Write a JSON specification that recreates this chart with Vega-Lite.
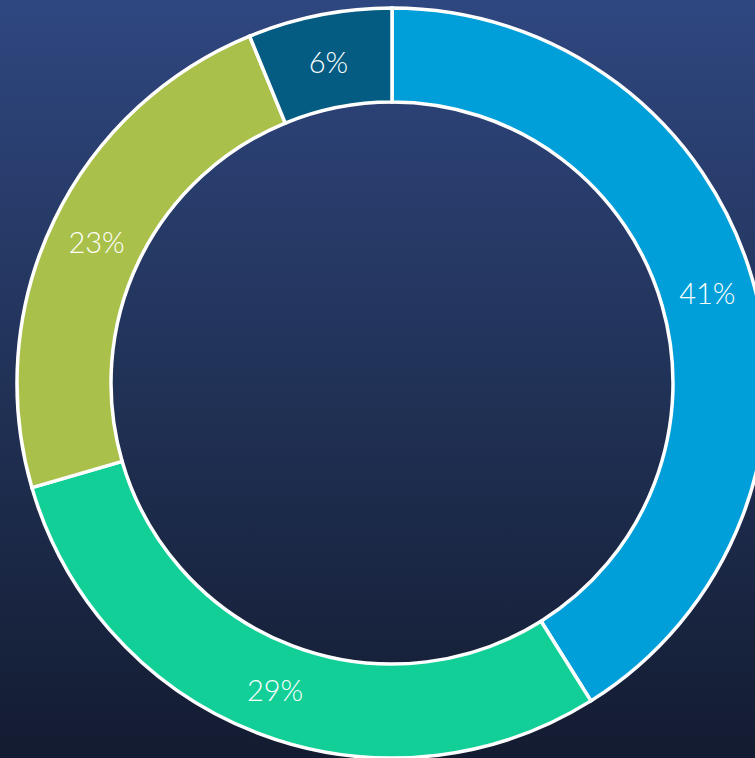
{
  "$schema": "https://vega.github.io/schema/vega-lite/v6.json",
  "width": 784,
  "height": 766,
  "autosize": {"type": "none"},
  "padding": 0,
  "background": "#1c2844",
  "config": {"view": {"stroke": null}},
  "data": {"values": [
    {"idx": 1, "segment": "A", "value": 41.1, "label": "41%"},
    {"idx": 2, "segment": "B", "value": 29.4, "label": "29%"},
    {"idx": 3, "segment": "C", "value": 23.3, "label": "23%"},
    {"idx": 4, "segment": "D", "value": 6.2, "label": "6%"}
  ]},
  "layer": [
    {
      "mark": {
        "type": "rect",
        "color": {
          "gradient": "linear", "x1": 0, "y1": 0, "x2": 0, "y2": 1,
          "stops": [
            {"offset": 0, "color": "#2f4780"},
            {"offset": 0.5, "color": "#213257"},
            {"offset": 1, "color": "#131b30"}
          ]
        }
      },
      "encoding": {}
    },
    {
      "mark": {"type": "arc", "outerRadius": 375, "innerRadius": 281, "stroke": "white", "strokeWidth": 3.5},
      "encoding": {
        "theta": {"field": "value", "type": "quantitative", "stack": true},
        "order": {"field": "idx", "type": "quantitative"},
        "color": {
          "field": "segment", "type": "nominal", "legend": null,
          "scale": {"domain": ["A", "B", "C", "D"], "range": ["#009fd9", "#12cf98", "#a9c04a", "#045c82"]}
        }
      }
    },
    {
      "mark": {"type": "text", "radius": 328, "dy": 3, "font": "Lato", "fontWeight": 300, "fontSize": 29, "color": "white", "align": "center", "baseline": "middle"},
      "encoding": {
        "theta": {"field": "value", "type": "quantitative", "stack": true},
        "order": {"field": "idx", "type": "quantitative"},
        "text": {"field": "label", "type": "nominal"}
      }
    }
  ]
}
